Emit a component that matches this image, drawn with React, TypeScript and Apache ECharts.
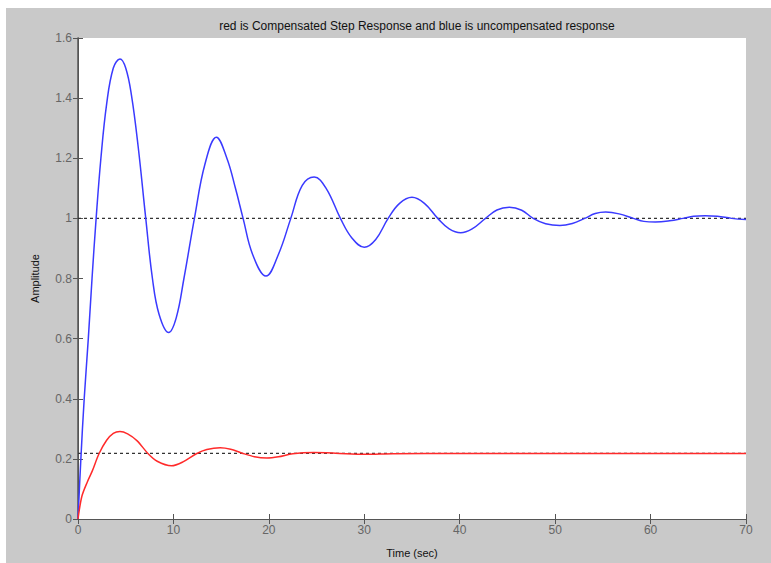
import React, { useEffect, useRef } from "react";
import * as echarts from "echarts";

const titleText = "red is Compensated Step Response and blue is uncompensated response";
const xTicks = [0, 10, 20, 30, 40, 50, 60, 70];
const yTicks = [0, 0.2, 0.4, 0.6, 0.8, 1, 1.2, 1.4, 1.6];

// uncompensated response (blue)
const blueT = [0, 0.3, 0.65, 1.08, 1.47, 1.9, 2.4, 3.0, 3.7, 4.4, 5.0, 5.6, 6.3, 7.1, 7.8, 8.5, 9.5, 10.3, 11.1, 12.2, 13.3, 14.5, 15.6, 16.5, 17.3, 18.3, 19.7, 21.0, 22.3, 23.5, 24.75, 26.0, 27.5, 28.7, 30.0, 31.2, 32.5, 33.7, 35.0, 36.3, 37.7, 38.9, 40.1, 41.3, 42.7, 43.9, 45.2, 46.5, 47.7, 49.0, 50.5, 51.8, 53.1, 54.2, 55.3, 56.7, 58.2, 59.3, 60.5, 62.0, 63.4, 64.5, 65.7, 67.0, 68.5, 70];
const blueY = [0, 0.2, 0.4, 0.6, 0.8, 1.0, 1.2, 1.38, 1.5, 1.53, 1.5, 1.41, 1.24, 1.0, 0.8, 0.68, 0.62, 0.67, 0.8, 1.0, 1.18, 1.27, 1.2, 1.1, 1.0, 0.88, 0.808, 0.88, 1.0, 1.11, 1.138, 1.1, 1.0, 0.935, 0.904, 0.93, 1.0, 1.05, 1.07, 1.05, 1.0, 0.965, 0.952, 0.965, 1.0, 1.028, 1.037, 1.027, 1.0, 0.982, 0.976, 0.983, 1.0, 1.016, 1.021, 1.015, 1.0, 0.99, 0.988, 0.992, 1.0, 1.007, 1.009, 1.007, 1.0, 0.996];

// compensated response (red)
const redT = [0, 0.4, 1.0, 1.5, 2.2, 3.0, 3.7, 4.4, 5.2, 6.2, 7.3, 8.3, 9.8, 11.0, 12.4, 13.5, 14.9, 16.0, 17.2, 18.5, 19.8, 21.0, 22.5, 24.7, 27.0, 30.0, 33.0, 40.0, 50.0, 60.0, 70.0];
const redY = [0, 0.075, 0.125, 0.16, 0.217, 0.262, 0.285, 0.291, 0.283, 0.26, 0.219, 0.192, 0.177, 0.19, 0.217, 0.231, 0.237, 0.232, 0.219, 0.207, 0.203, 0.207, 0.217, 0.221, 0.219, 0.215, 0.217, 0.218, 0.218, 0.218, 0.218];

// steady-state reference levels (dotted lines)
const refLevels = [1, 0.218];

export default function App() {
  const ref = useRef<HTMLDivElement>(null);
  useEffect(() => {
    if (!ref.current) return;
    const chart = echarts.init(ref.current, null, { renderer: "svg" });
    const pairs = (t: number[], y: number[]) => t.map((v, i) => [v, y[i]]);
    const axisColor = "#555";
    const tickLen = 5;
    const font = "Liberation Sans, Arial, sans-serif";
    chart.setOption({
      animation: false,
      backgroundColor: "#ffffff",
      graphic: [
        {
          type: "rect",
          z: -10,
          silent: true,
          shape: { x: 6, y: 8, width: 771, height: 563 },
          style: { fill: "#c9c9c9" },
        },
      ],
      title: {
        text: titleText,
        left: 412,
        top: 15,
        textAlign: "center",
        textStyle: { fontSize: 12, fontWeight: "normal", color: "#111", fontFamily: font },
      },
      grid: {
        left: 78,
        right: 25,
        top: 38,
        bottom: 43,
        show: true,
        backgroundColor: "#ffffff",
        borderWidth: 0,
      },
      xAxis: [
        {
          type: "value",
          min: xTicks[0],
          max: xTicks[xTicks.length - 1],
          interval: 10,
          position: "bottom",
          name: "Time (sec)",
          nameLocation: "middle",
          nameGap: 28,
          nameTextStyle: { fontSize: 11, color: "#111", fontFamily: font },
          axisLine: { show: true, lineStyle: { color: axisColor, width: 1 } },
          axisTick: { show: true, inside: true, length: tickLen, lineStyle: { color: axisColor } },
          axisLabel: { fontSize: 12, color: "#666", margin: 5, fontFamily: font },
          splitLine: { show: false },
        },
        {
          type: "value",
          min: xTicks[0],
          max: xTicks[xTicks.length - 1],
          interval: 10,
          position: "top",
          axisLine: { show: true, lineStyle: { color: axisColor, width: 1 } },
          axisTick: { show: true, inside: true, length: tickLen, lineStyle: { color: axisColor } },
          axisLabel: { show: false },
          splitLine: { show: false },
        },
      ],
      yAxis: [
        {
          type: "value",
          min: yTicks[0],
          max: yTicks[yTicks.length - 1],
          interval: 0.2,
          position: "left",
          name: "Amplitude",
          nameLocation: "middle",
          nameGap: 38,
          nameTextStyle: { fontSize: 11, color: "#111", fontFamily: font },
          axisLine: { show: true, lineStyle: { color: axisColor, width: 1 } },
          axisTick: { show: true, inside: true, length: tickLen, lineStyle: { color: axisColor } },
          axisLabel: { fontSize: 12, color: "#666", margin: 6, fontFamily: font },
          splitLine: { show: false },
        },
        {
          type: "value",
          min: yTicks[0],
          max: yTicks[yTicks.length - 1],
          interval: 0.2,
          position: "right",
          axisLine: { show: true, lineStyle: { color: axisColor, width: 1.5 } },
          axisTick: { show: true, inside: true, length: tickLen, lineStyle: { color: axisColor } },
          axisLabel: { show: false },
          splitLine: { show: false },
        },
      ],
      series: [
        ...refLevels.map((lv) => ({
          type: "line",
          xAxisIndex: 0,
          yAxisIndex: 0,
          data: [
            [xTicks[0], lv],
            [xTicks[xTicks.length - 1], lv],
          ],
          showSymbol: false,
          silent: true,
          z: 1,
          lineStyle: { color: "#333", width: 1.2, type: [3, 3] },
        })),
        {
          type: "line",
          name: "uncompensated",
          data: pairs(blueT, blueY),
          showSymbol: false,
          smooth: 0.4,
          z: 3,
          lineStyle: { color: "#3a3aff", width: 1.5 },
        },
        {
          type: "line",
          name: "compensated",
          data: pairs(redT, redY),
          showSymbol: false,
          smooth: 0.3,
          z: 3,
          lineStyle: { color: "#ff2a2a", width: 1.5 },
        },
      ],
    });
    return () => chart.dispose();
  }, []);
  return (
    <div
      ref={ref}
      style={{ position: "fixed", left: 0, top: 0, width: 771, height: 563 }}
    />
  );
}
